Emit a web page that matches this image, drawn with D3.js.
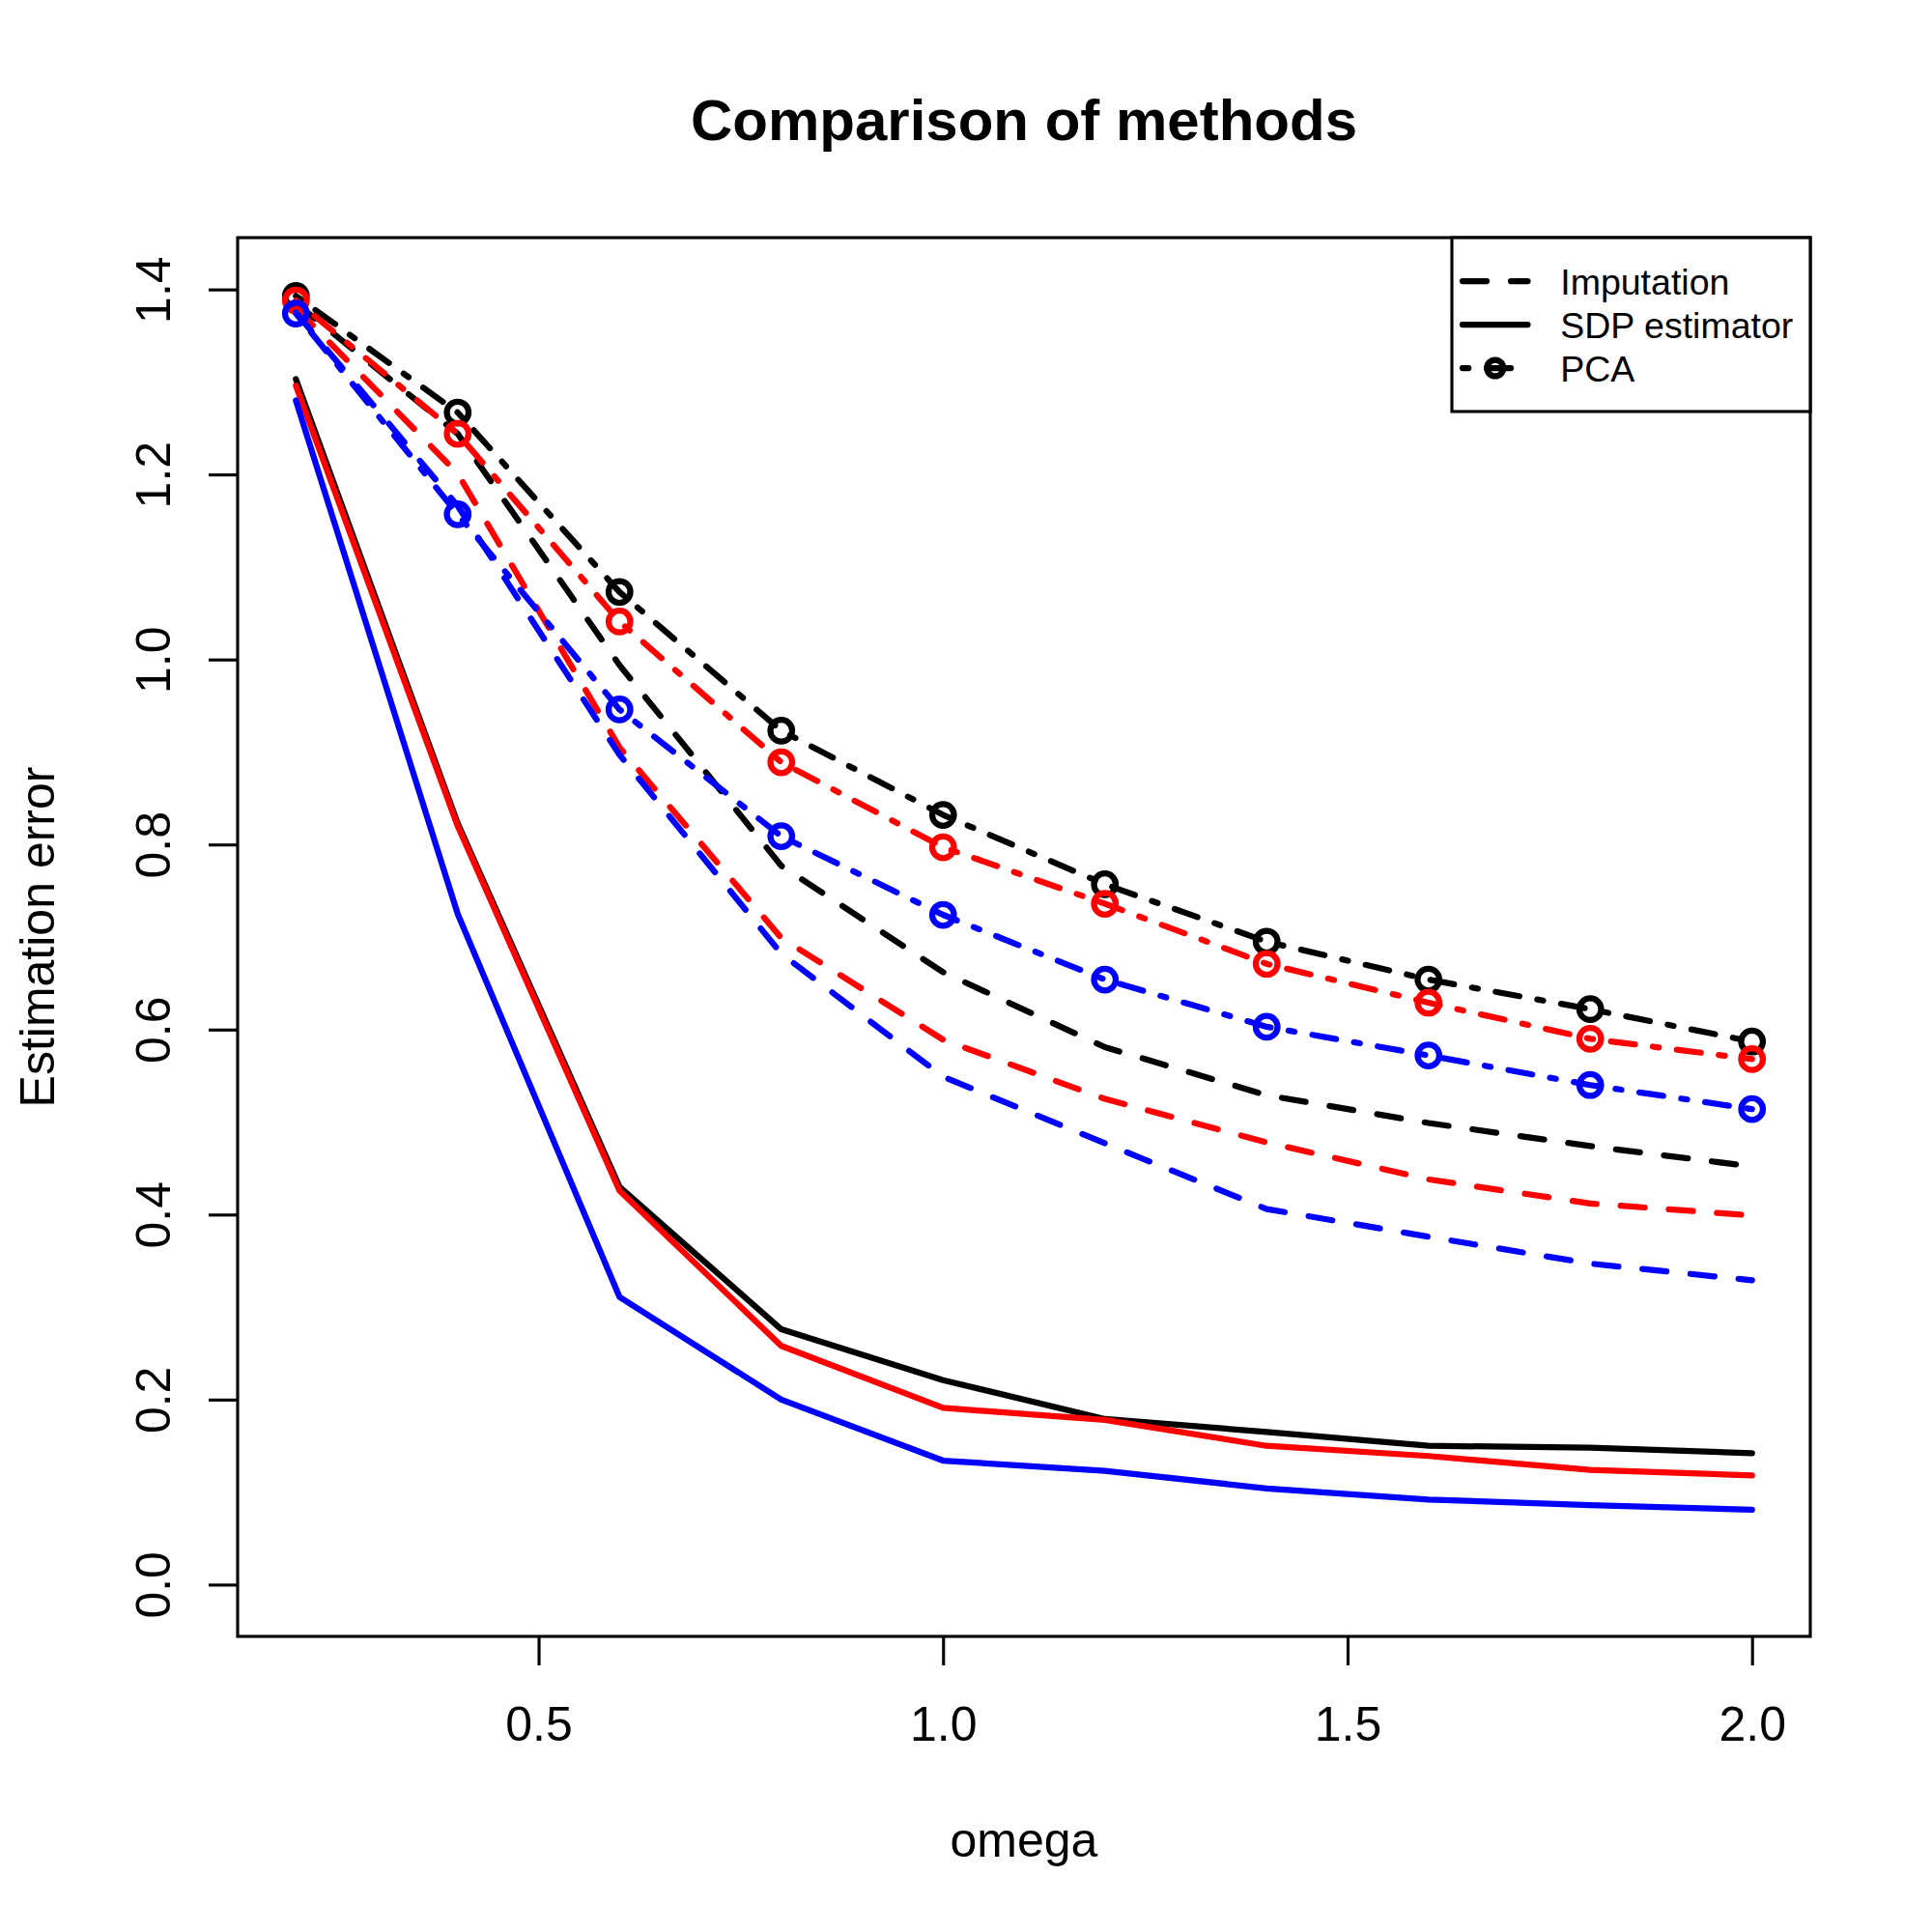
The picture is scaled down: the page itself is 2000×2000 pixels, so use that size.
<!DOCTYPE html>
<html lang="en">
  <head>
    <meta charset="utf-8">
    <title>Comparison of methods</title>
    <script type="text/javascript" src="https://d3js.org/d3.v7.min.js"></script>
    <style>
      body {
        margin: 0;
        background: #ffffff;
      }
      svg text {
        font-family: 'Liberation Sans', Arial, Helvetica, sans-serif;
        fill: #000000;
      }
      .series-line {
        fill: none;
        stroke-width: 6.25;
        stroke-linecap: round;
        stroke-linejoin: round;
      }
      .series-point {
        fill: none;
        stroke-width: 6.25;
      }
      .axis line {
        stroke: #000000;
        stroke-width: 3.125;
      }
      .axis text {
        font-size: 50px;
      }
    </style>
  </head>
  <body>
    <div id="vis"></div>

    <script type="text/javascript">

      // ---- data ----
      var omega = [0.2, 0.4, 0.6, 0.8, 1.0, 1.2, 1.4, 1.6, 1.8, 2.0];

      // Imputation (dashed)
      var impBlack = [1.385, 1.244, 0.994, 0.777, 0.662, 0.581, 0.529, 0.499, 0.474, 0.452];
      var impRed   = [1.380, 1.201, 0.905, 0.699, 0.589, 0.525, 0.478, 0.438, 0.412, 0.399];
      var impBlue  = [1.375, 1.166, 0.897, 0.682, 0.549, 0.477, 0.406, 0.376, 0.347, 0.329];

      // SDP estimator (solid)
      var sdpBlack = [1.303, 0.823, 0.430, 0.276, 0.221, 0.179, 0.165, 0.150, 0.148, 0.142];
      var sdpRed   = [1.296, 0.820, 0.426, 0.258, 0.191, 0.178, 0.150, 0.139, 0.124, 0.118];
      var sdpBlue  = [1.280, 0.725, 0.311, 0.200, 0.134, 0.123, 0.104, 0.092, 0.086, 0.081];

      // PCA (dot-dash with circles)
      var pcaBlack = [1.393, 1.267, 1.073, 0.923, 0.832, 0.757, 0.695, 0.654, 0.622, 0.587];
      var pcaRed   = [1.388, 1.244, 1.041, 0.889, 0.797, 0.736, 0.671, 0.629, 0.590, 0.568];
      var pcaBlue  = [1.374, 1.157, 0.946, 0.809, 0.724, 0.654, 0.603, 0.572, 0.540, 0.514];

      var xTicks = [0.5, 1.0, 1.5, 2.0];
      var yTicks = [0.0, 0.2, 0.4, 0.6, 0.8, 1.0, 1.2, 1.4];
      var legendLabels = ['Imputation', 'SDP estimator', 'PCA'];

      // ---- layout (R default margins at 300 dpi: 1 line = 60px) ----
      var w = 2000;
      var h = 2000;
      var line = 60;
      var plotLeft = 4.1 * line;
      var plotRight = w - 2.1 * line;
      var plotTop = 4.1 * line;
      var plotBottom = h - 5.1 * line;
      var lwd = 6.25; // lwd = 2
      var thin = 3.125; // lwd = 1

      var dashImp = [4 * lwd, 4 * lwd];                     // lty 2
      var dashPca = [1 * lwd, 3 * lwd, 4 * lwd, 3 * lwd];   // lty 4

      var styles = {
        imp: { dash: dashImp.join(','), points: false },
        sdp: { dash: null, points: false },
        pca: { dash: dashPca.join(','), points: true }
      };

      var series = [
        { type: 'imp', color: '#000000', values: impBlack },
        { type: 'sdp', color: '#000000', values: sdpBlack },
        { type: 'pca', color: '#000000', values: pcaBlack },
        { type: 'imp', color: '#ff0000', values: impRed },
        { type: 'sdp', color: '#ff0000', values: sdpRed },
        { type: 'pca', color: '#ff0000', values: pcaRed },
        { type: 'imp', color: '#0000ff', values: impBlue },
        { type: 'sdp', color: '#0000ff', values: sdpBlue },
        { type: 'pca', color: '#0000ff', values: pcaBlue }
      ];

      var svg = d3.select('#vis')
        .append('svg')
          .attr('width', w)
          .attr('height', h)
          .style('display', 'block')
          .style('background', '#ffffff');

      // R-style 4% axis extension
      var xExt = d3.extent(omega);
      var xPad = (xExt[1] - xExt[0]) * 0.04;
      var yLim = [0, 1.4];
      var yPad = (yLim[1] - yLim[0]) * 0.04;

      var xScale = d3.scaleLinear()
        .domain([xExt[0] - xPad, xExt[1] + xPad])
        .range([plotLeft, plotRight]);

      var yScale = d3.scaleLinear()
        .domain([yLim[0] - yPad, yLim[1] + yPad])
        .range([plotBottom, plotTop]);

      var lineGen = d3.line()
        .x(function(d, i) { return xScale(omega[i]); })
        .y(function(d) { return yScale(d); });

      // ---- series ----
      var seriesGroup = svg.append('g').attr('id', 'series');

      series.forEach(function(s) {
        var st = styles[s.type];
        seriesGroup.append('path')
          .attr('class', 'series-line')
          .attr('d', lineGen(s.values))
          .attr('stroke', s.color)
          .attr('stroke-dasharray', st.dash);

        if (st.points) {
          seriesGroup.selectAll(null)
            .data(s.values)
            .enter()
            .append('circle')
              .attr('class', 'series-point')
              .attr('cx', function(d, i) { return xScale(omega[i]); })
              .attr('cy', function(d) { return yScale(d); })
              .attr('r', 11.25)
              .attr('stroke', s.color);
        }
      });

      // ---- axes ----
      var xAxis = d3.axisBottom(xScale)
        .tickValues(xTicks)
        .tickFormat(d3.format('.1f'))
        .tickSizeInner(line / 2)
        .tickSizeOuter(0);

      var gx = svg.append('g')
        .attr('class', 'axis')
        .attr('transform', 'translate(0,' + plotBottom + ')')
        .call(xAxis);
      gx.select('.domain').remove();
      gx.selectAll('text')
        .attr('y', 108)
        .attr('dy', null);

      var yAxis = d3.axisLeft(yScale)
        .tickValues(yTicks)
        .tickFormat(d3.format('.1f'))
        .tickSizeInner(line / 2)
        .tickSizeOuter(0);

      var gy = svg.append('g')
        .attr('class', 'axis')
        .attr('transform', 'translate(' + plotLeft + ',0)')
        .call(yAxis);
      gy.select('.domain').remove();
      gy.selectAll('text')
        .attr('x', null)
        .attr('dy', null)
        .attr('text-anchor', 'middle')
        .attr('transform', 'translate(-70,0) rotate(-90)');

      // plot frame
      svg.append('rect')
        .attr('x', plotLeft)
        .attr('y', plotTop)
        .attr('width', plotRight - plotLeft)
        .attr('height', plotBottom - plotTop)
        .attr('fill', 'none')
        .attr('stroke', '#000000')
        .attr('stroke-width', thin);

      // ---- titles ----
      var midX = (plotLeft + plotRight) / 2;
      var midY = (plotTop + plotBottom) / 2;

      svg.append('text')
        .attr('x', midX)
        .attr('y', 145)
        .attr('text-anchor', 'middle')
        .style('font-size', '60px')
        .style('font-weight', 'bold')
        .text('Comparison of methods');

      svg.append('text')
        .attr('x', midX)
        .attr('y', plotBottom + 3 * line + 48)
        .attr('text-anchor', 'middle')
        .style('font-size', '50px')
        .text('omega');

      svg.append('text')
        .attr('transform', 'translate(' + (plotLeft - 3 * line - 10) + ',' + midY + ') rotate(-90)')
        .attr('text-anchor', 'middle')
        .style('font-size', '50px')
        .text('Estimation error');

      // ---- legend (topright, cex 0.75) ----
      var lCex = 0.75;
      var xchar = 0.15 * 300 * lCex;  // 33.75
      var ychar = 0.2 * 300 * lCex;   // 45
      var legendW = 371;
      var legendH = (legendLabels.length + 1) * ychar;
      var legendX = plotRight - legendW;
      var legendY = plotTop;

      var legend = svg.append('g').attr('id', 'legend');

      legend.append('rect')
        .attr('x', legendX)
        .attr('y', legendY)
        .attr('width', legendW)
        .attr('height', legendH)
        .attr('fill', '#ffffff')
        .attr('stroke', '#000000')
        .attr('stroke-width', thin);

      var legendTypes = ['imp', 'sdp', 'pca'];
      var segX0 = legendX + 11;
      var segX1 = segX0 + 2 * xchar;

      legendTypes.forEach(function(t, i) {
        var cy = legendY + (i + 1) * ychar;
        legend.append('line')
          .attr('class', 'series-line')
          .attr('x1', segX0)
          .attr('x2', segX1)
          .attr('y1', cy)
          .attr('y2', cy)
          .attr('stroke', '#000000')
          .attr('stroke-dasharray', styles[t].dash);
        if (styles[t].points) {
          legend.append('circle')
            .attr('class', 'series-point')
            .attr('cx', (segX0 + segX1) / 2)
            .attr('cy', cy)
            .attr('r', 11.25 * lCex)
            .attr('stroke', '#000000');
        }
        legend.append('text')
          .attr('x', segX1 + xchar)
          .attr('y', cy)
          .attr('dy', '0.36em')
          .style('font-size', (50 * lCex) + 'px')
          .text(legendLabels[i]);
      });

    </script>
  </body>
</html>
